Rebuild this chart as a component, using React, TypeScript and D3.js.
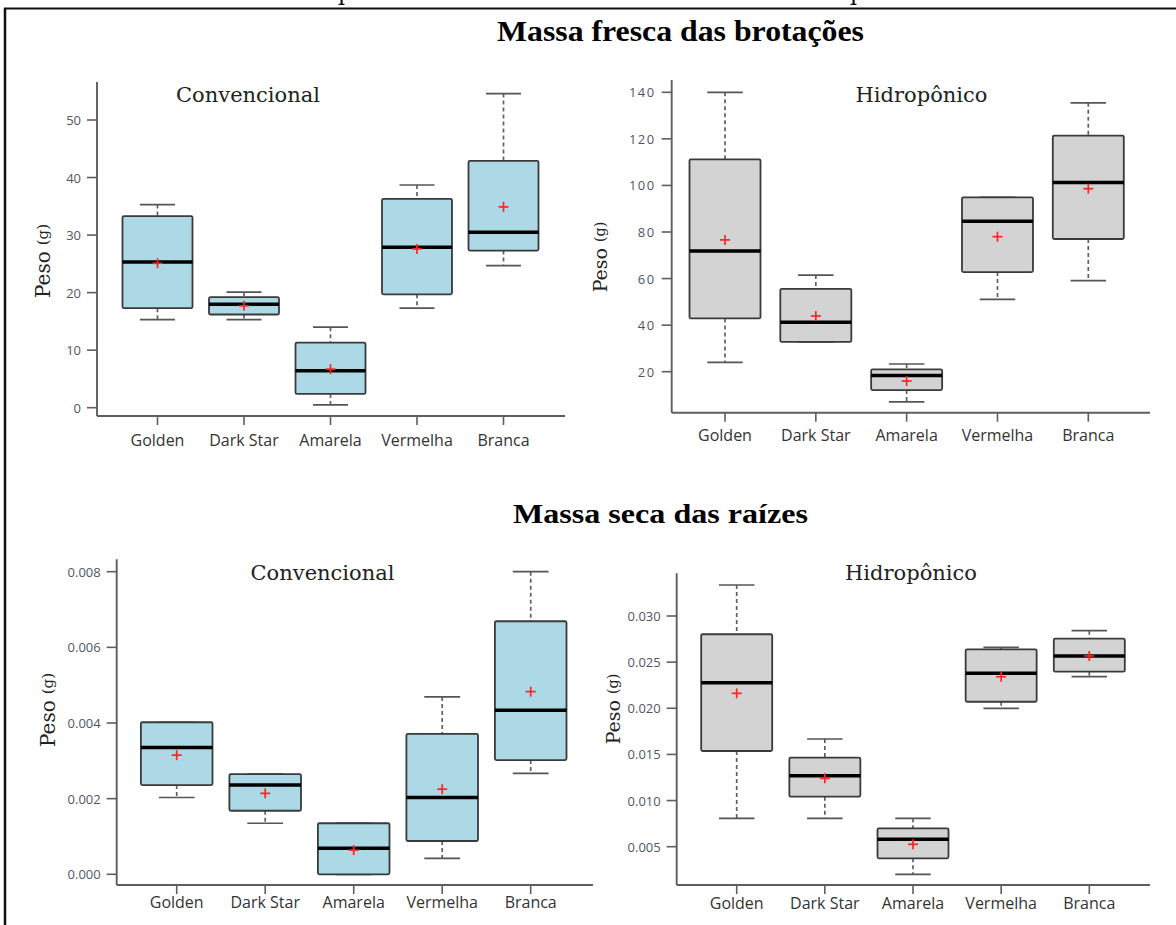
import React from "react";
import * as d3 from "d3";

const categories = ["Golden", "Dark Star", "Amarela", "Vermelha", "Branca"];

// each row: [lower whisker, Q1, median, Q3, upper whisker, mean]
const frescaConvencional = [
  [15.3, 17.3, 25.3, 33.3, 35.3, 25.1],
  [15.3, 16.2, 18.0, 19.2, 20.1, 17.7],
  [0.5, 2.4, 6.4, 11.3, 14.0, 6.7],
  [17.3, 19.7, 27.9, 36.3, 38.7, 27.6],
  [24.7, 27.3, 30.5, 42.9, 54.6, 34.9],
];
const frescaHidroponico = [
  [24.0, 42.9, 71.8, 111.2, 140.0, 76.6],
  [32.8, 32.8, 41.2, 55.6, 61.5, 43.9],
  [7.0, 12.1, 18.4, 21.0, 23.3, 16.0],
  [51.1, 62.8, 84.6, 94.9, 94.9, 78.0],
  [59.1, 77.0, 101.3, 121.4, 135.5, 98.6],
];
const secaConvencional = [
  [0.00203, 0.00236, 0.00335, 0.00402, 0.00402, 0.00315],
  [0.00135, 0.00168, 0.00236, 0.00265, 0.00265, 0.00214],
  [0.0, 0.0, 0.00069, 0.00135, 0.00135, 0.00064],
  [0.00042, 0.00088, 0.00203, 0.00371, 0.00469, 0.00225],
  [0.00267, 0.00302, 0.00434, 0.00669, 0.008, 0.00483],
];
const secaHidroponico = [
  [0.00807, 0.01537, 0.02277, 0.02802, 0.03336, 0.02162],
  [0.00807, 0.01042, 0.01269, 0.01465, 0.01667, 0.01241],
  [0.002, 0.00374, 0.0058, 0.00699, 0.00807, 0.00526],
  [0.02, 0.02071, 0.02379, 0.02639, 0.02661, 0.02342],
  [0.02342, 0.02397, 0.02567, 0.02754, 0.02841, 0.02567],
];

const frescaConvTicks = [0, 10, 20, 30, 40, 50];
const frescaHidroTicks = [20, 40, 60, 80, 100, 120, 140];
const secaConvTicks = [0, 0.002, 0.004, 0.006, 0.008];
const secaHidroTicks = [0.005, 0.01, 0.015, 0.02, 0.025, 0.03];

const mainTitles = ["Massa fresca das brotações", "Massa seca das raízes"];
const panelTitles = ["Convencional", "Hidropônico"];

const SERIF = "'DejaVu Serif', serif";
const SANS = "'Open Sans', 'DejaVu Sans', sans-serif";

type PanelProps = {
  stats: number[][];
  ticks: number[];
  yDomain: [number, number];
  yRange: [number, number];
  axisX: number;
  top: number;
  axisY: number;
  xEnd: number;
  xRange: [number, number];
  boxW: number;
  fill: string;
  title: string;
  titleX: number;
  titleY: number;
  ylabX: number;
  ylabY: number;
  ylabSize: number;
  catY: number;
  tickSpacing?: number;
  fmt: (v: number) => string;
};

const Panel = (p: PanelProps) => {
  const y = d3.scaleLinear().domain(p.yDomain).range(p.yRange);
  const x = d3.scalePoint<string>().domain(categories).range(p.xRange);
  const half = p.boxW / 2;

  return (
    <g>
      <text x={p.titleX} y={p.titleY} textAnchor="middle" fontFamily={SERIF} fontSize={21} fill="#222">
        {p.title}
      </text>

      {/* y label */}
      <text
        transform={`translate(${p.ylabX},${p.ylabY}) rotate(-90)`}
        textAnchor="middle"
        fontFamily={SERIF}
        fill="#222"
        dominantBaseline="central"
      >
        <tspan fontSize={p.ylabSize}>Peso</tspan>
        <tspan fontSize={p.ylabSize * 0.75} dx={6}>(g)</tspan>
      </text>

      {/* axes */}
      <line x1={p.axisX} x2={p.axisX} y1={p.top} y2={p.axisY} stroke="#5e5e5e" strokeWidth={1.9} />
      <line x1={p.axisX} x2={p.xEnd} y1={p.axisY} y2={p.axisY} stroke="#5e5e5e" strokeWidth={1.9} />
      {p.ticks.map((t) => (
        <g key={t}>
          <line x1={p.axisX - 10} x2={p.axisX} y1={y(t)} y2={y(t)} stroke="#5e5e5e" strokeWidth={1.6} />
          <text
            x={p.axisX - 16}
            y={y(t)}
            textAnchor="end"
            dominantBaseline="central"
            fontFamily={SANS}
            fontSize={13}
            letterSpacing={p.tickSpacing ?? 0}
            fill="#555560"
          >
            {p.fmt(t)}
          </text>
        </g>
      ))}
      {categories.map((c) => (
        <g key={c}>
          <line x1={x(c)} x2={x(c)} y1={p.axisY} y2={p.axisY + 9} stroke="#5e5e5e" strokeWidth={1.6} />
          <text x={x(c)} y={p.catY} textAnchor="middle" fontFamily={SANS} fontSize={16} fill="#333">
            {c}
          </text>
        </g>
      ))}

      {/* boxes */}
      {p.stats.map((s, i) => {
        const cx = x(categories[i]) as number;
        const [lo, q1, med, q3, hi, mean] = s;
        return (
          <g key={i}>
            <line x1={cx} x2={cx} y1={y(hi)} y2={y(q3)} stroke="#606060" strokeWidth={1.7} strokeDasharray="4,3" />
            <line x1={cx} x2={cx} y1={y(q1)} y2={y(lo)} stroke="#606060" strokeWidth={1.7} strokeDasharray="4,3" />
            <line x1={cx - half / 2} x2={cx + half / 2} y1={y(hi)} y2={y(hi)} stroke="#555" strokeWidth={1.7} />
            <line x1={cx - half / 2} x2={cx + half / 2} y1={y(lo)} y2={y(lo)} stroke="#555" strokeWidth={1.7} />
            <rect
              x={cx - half}
              y={y(q3)}
              width={p.boxW}
              height={Math.max(y(q1) - y(q3), 0.5)}
              rx={1.5}
              fill={p.fill}
              stroke="#3a3a3a"
              strokeWidth={1.8}
            />
            <line x1={cx - half} x2={cx + half} y1={y(med)} y2={y(med)} stroke="#000" strokeWidth={3.5} />
            <line x1={cx - 5} x2={cx + 5} y1={y(mean)} y2={y(mean)} stroke="#ff2424" strokeWidth={1.7} />
            <line x1={cx} x2={cx} y1={y(mean) - 5} y2={y(mean) + 5} stroke="#ff2424" strokeWidth={1.7} />
          </g>
        );
      })}
    </g>
  );
};

const fmtInt = d3.format("d");
const fmt3 = d3.format(".3f");

export default function App() {
  return (
    <>
      <style>{`body{margin:0}`}</style>
      <svg width={1176} height={925} style={{ display: "block", background: "#fff" }}>
        {/* frame and the descenders of the cut-off caption above it */}
        <text x={338} y={0} fontFamily={SERIF} fontSize={22} fill="#000">p</text>
        <text x={850} y={0} fontFamily={SERIF} fontSize={22} fill="#000">p</text>
        <line x1={4} x2={1176} y1={8.5} y2={8.5} stroke="#111" strokeWidth={2} />
        <line x1={5} x2={5} y1={8} y2={925} stroke="#111" strokeWidth={2.5} />

        <text
          x={680.5}
          y={41}
          textAnchor="middle"
          fontFamily="'Liberation Serif', serif"
          fontWeight="bold"
          fontSize={29}
          textLength={367}
          lengthAdjust="spacingAndGlyphs"
        >
          {mainTitles[0]}
        </text>
        <text
          x={660.5}
          y={523}
          textAnchor="middle"
          fontFamily="'Liberation Serif', serif"
          fontWeight="bold"
          fontSize={27}
          textLength={295}
          lengthAdjust="spacingAndGlyphs"
        >
          {mainTitles[1]}
        </text>

        <Panel
          stats={frescaConvencional}
          ticks={frescaConvTicks}
          yDomain={[0, 50]}
          yRange={[407.7, 120]}
          axisX={97}
          top={82}
          axisY={416}
          xEnd={565}
          xRange={[157.5, 503.5]}
          boxW={70}
          fill="#add8e6"
          title={panelTitles[0]}
          titleX={248}
          titleY={101.5}
          ylabX={43}
          ylabY={261}
          ylabSize={20}
          catY={446}
          fmt={fmtInt}
        />
        <Panel
          stats={frescaHidroponico}
          ticks={frescaHidroTicks}
          yDomain={[20, 140]}
          yRange={[371.7, 92.3]}
          axisX={671.7}
          top={80}
          axisY={412.7}
          xEnd={1150}
          xRange={[725, 1088.3]}
          boxW={71}
          fill="#d3d3d3"
          title={panelTitles[1]}
          titleX={921.5}
          titleY={101.5}
          ylabX={600}
          ylabY={257}
          ylabSize={19}
          catY={441}
          tickSpacing={1.5}
          fmt={fmtInt}
        />
        <Panel
          stats={secaConvencional}
          ticks={secaConvTicks}
          yDomain={[0, 0.008]}
          yRange={[874.3, 571.7]}
          axisX={116.7}
          top={559.3}
          axisY={885}
          xEnd={593}
          xRange={[176.7, 530.7]}
          boxW={71.6}
          fill="#add8e6"
          title={panelTitles[0]}
          titleX={322.5}
          titleY={580}
          ylabX={48}
          ylabY={710}
          ylabSize={20}
          catY={908}
          fmt={fmt3}
        />
        <Panel
          stats={secaHidroponico}
          ticks={secaHidroTicks}
          yDomain={[0.005, 0.03]}
          yRange={[846.7, 616]}
          axisX={676.7}
          top={573.3}
          axisY={885}
          xEnd={1150}
          xRange={[736.7, 1089.3]}
          boxW={71}
          fill="#d3d3d3"
          title={panelTitles[1]}
          titleX={911}
          titleY={580}
          ylabX={613}
          ylabY={709}
          ylabSize={19}
          catY={909}
          fmt={fmt3}
        />
      </svg>
    </>
  );
}
